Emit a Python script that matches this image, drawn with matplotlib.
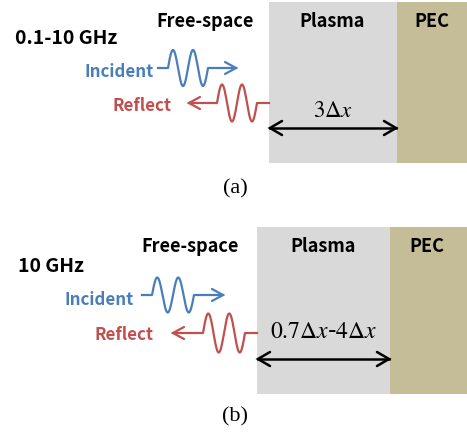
import numpy as np
import matplotlib
matplotlib.use("Agg")
import matplotlib.pyplot as plt
from matplotlib.patches import Rectangle

# ---- content ----
freq_labels = ["0.1-10 GHz", "10 GHz"]
region_labels = ["Free-space", "Plasma", "PEC"]
wave_labels = ["Incident", "Reflect"]
thickness_labels = [r"$3\Delta x$", r"$0.7\Delta x$-$4\Delta x$"]
panel_labels = ["(a)", "(b)"]

BLUE = "#4a7ebb"
RED = "#c0504d"
GRAY = "#d9d9d9"
TAN = "#c4bd97"
SANS = ["Noto Sans CJK KR", "DejaVu Sans"]

fig = plt.figure(figsize=(4.67, 4.33), dpi=100)
ax = fig.add_axes([0, 0, 1, 1])
ax.set_xlim(0, 467)
ax.set_ylim(433, 0)
ax.axis("off")


def chevron(x_tip, y, direction, color, L=11, W=6, lw=1.6):
    ax.plot([x_tip - direction * L, x_tip, x_tip - direction * L],
            [y - W, y, y + W], color=color, lw=lw,
            solid_capstyle="round", solid_joinstyle="miter")


def wave(x_line0, x_wave0, period, amp, base, x_line1, color, lw=1.6):
    xs = np.linspace(x_wave0, x_wave0 + 2 * period, 200)
    ys = base - amp * np.sin(2 * np.pi * (xs - x_wave0) / period)
    X = np.concatenate([[x_line0], xs, [x_line1]])
    Y = np.concatenate([[base], ys, [base]])
    ax.plot(X, Y, color=color, lw=lw, solid_joinstyle="round")


def panel(top, bot, px0, px1, y_fs, fs_x, pl_x, pec_x, freq, freq_x, freq_y,
          inc_x, inc_y, ref_x, ref_y, blue, red, arr_y, thick, thick_y,
          thick_size, plab, plab_y):
    ax.add_patch(Rectangle((px0, top), px1 - px0, bot - top, color=GRAY, lw=0))
    ax.add_patch(Rectangle((px1, top), 467 - px1, bot - top, color=TAN, lw=0))
    kw = dict(family=SANS, weight="bold", fontsize=13, va="baseline")
    ax.text(fs_x, y_fs, region_labels[0], ha="center", **kw)
    ax.text(pl_x, y_fs, region_labels[1], ha="center", **kw)
    ax.text(pec_x, y_fs, region_labels[2], ha="center", **kw)
    ax.text(freq_x, freq_y, freq, ha="left", family=SANS, weight="bold",
            fontsize=14, va="baseline")
    ax.text(inc_x, inc_y, wave_labels[0], ha="left", color=BLUE,
            family=SANS, weight="bold", fontsize=12.2, va="baseline")
    ax.text(ref_x, ref_y, wave_labels[1], ha="left", color=RED,
            family=SANS, weight="bold", fontsize=12.2, va="baseline")
    # incident wave
    l0, w0, P, A, b, tip = blue
    wave(l0, w0, P, A, b, tip, BLUE)
    chevron(tip, b, +1, BLUE)
    # reflected wave
    tip, w0, P, A, b, l1 = red
    wave(tip, w0, P, A, b, l1, RED)
    chevron(tip, b, -1, RED)
    # thickness arrow
    ax.plot([px0 + 1, px1 - 1], [arr_y, arr_y], color="black", lw=1.8)
    chevron(px0 + 1, arr_y, -1, "black", L=12, W=7, lw=1.8)
    chevron(px1 - 1, arr_y, +1, "black", L=12, W=7, lw=1.8)
    ax.text((px0 + px1) / 2, thick_y, thick, ha="center", va="baseline",
            fontsize=thick_size, math_fontfamily="stix")
    ax.text(235, plab_y, plab, ha="center", va="baseline",
            family="Liberation Serif", fontsize=16)


panel(top=2, bot=163, px0=269, px1=397, y_fs=27, fs_x=205, pl_x=332, pec_x=432,
      freq=freq_labels[0], freq_x=15, freq_y=44,
      inc_x=85, inc_y=77, ref_x=113, ref_y=111,
      blue=(158, 168, 20, 18, 68, 236),
      red=(189, 217, 20, 18.5, 103, 269),
      arr_y=128, thick=thickness_labels[0], thick_y=117, thick_size=16.5,
      plab=panel_labels[0], plab_y=193)

panel(top=227, bot=394, px0=257, px1=390, y_fs=252, fs_x=190, pl_x=323, pec_x=427,
      freq=freq_labels[1], freq_x=18, freq_y=272,
      inc_x=65, inc_y=305, ref_x=95, ref_y=340,
      blue=(142, 152, 21, 17.5, 295, 223),
      red=(173, 203, 21, 19.5, 333, 257),
      arr_y=359, thick=thickness_labels[1], thick_y=338, thick_size=17,
      plab=panel_labels[1], plab_y=421)

fig.savefig("out.png", dpi=100)
